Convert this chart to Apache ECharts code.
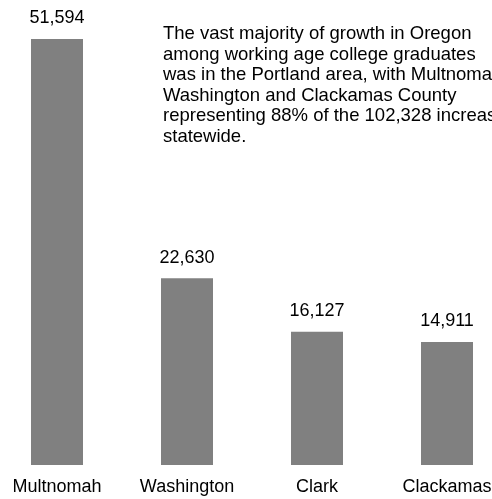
<!DOCTYPE html>
<html>
<head>
<meta charset="utf-8">
<script src="https://cdn.jsdelivr.net/npm/echarts@6/dist/echarts.min.js"></script>
<style>html,body{margin:0;padding:0;background:#fff;}#c{width:492px;height:499px;}</style>
</head>
<body>
<div id="c"></div>
<script>
var categories = ['Multnomah', 'Washington', 'Clark', 'Clackamas'];
var values = [51594, 22630, 16127, 14911];
var note = 'The vast majority of growth in Oregon\namong working age college graduates\nwas in the Portland area, with Multnomah,\nWashington and Clackamas County\nrepresenting 88% of the 102,328 increase\nstatewide.';

var chart = echarts.init(document.getElementById('c'));
chart.setOption({
  animation: false,
  grid: { left: -8, right: -20, top: 39, bottom: 34, containLabel: false, outerBoundsMode: 'none' },
  xAxis: {
    type: 'category',
    data: categories,
    axisLine: { show: false },
    axisTick: { show: false },
    axisLabel: { color: '#000', fontFamily: 'Liberation Sans, Arial', fontSize: 18, margin: 13.5, hideOverlap: false }
  },
  yAxis: {
    type: 'value',
    min: 0,
    max: 51594,
    show: false,
    splitLine: { show: false }
  },
  series: [{
    type: 'bar',
    data: values,
    barWidth: 52,
    itemStyle: { color: '#808080' },
    label: {
      show: true,
      position: 'top',
      distance: 11.5,
      color: '#000',
      fontFamily: 'Liberation Sans, Arial',
      fontSize: 18,
      formatter: function (p) { return p.value.toLocaleString('en-US'); }
    }
  }],
  graphic: [{
    type: 'text',
    left: 163,
    top: 24,
    style: {
      text: note,
      fill: '#000',
      font: '18.5px "Liberation Sans", Arial',
      lineHeight: 20.5
    }
  }]
});
</script>
</body>
</html>
